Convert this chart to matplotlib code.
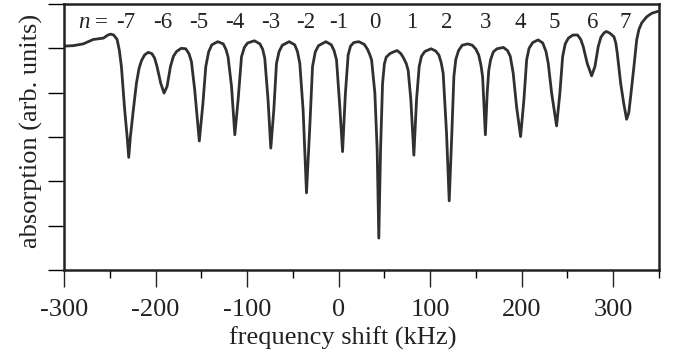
import numpy as np
import matplotlib
matplotlib.use("Agg")
import matplotlib.pyplot as plt
from matplotlib.ticker import MultipleLocator, NullFormatter

# Traced absorption spectrum (frequency shift in kHz, absorption in arb. units)
frequency_shift = [
    -300.0, -290.0, -279.0, -268.0, -257.0, -252.0, -249.0, -245.7,
    -242.0, -239.5, -237.3, -233.7, -231.0, -229.3, -227.5, -224.6,
    -220.9, -218.0, -215.4, -212.0, -208.0, -204.0, -201.0, -198.4,
    -194.3, -190.7, -187.4, -183.7, -180.5, -177.0, -172.0, -167.0,
    -163.5, -160.8, -157.2, -152.2, -148.4, -145.1, -142.0, -138.5,
    -132.0, -126.0, -123.0, -120.8, -117.0, -113.4, -109.8, -106.1,
    -103.0, -99.5, -92.0, -86.0, -83.0, -80.7, -77.1, -74.1,
    -70.8, -67.9, -65.0, -61.5, -54.0, -48.0, -45.0, -42.4,
    -38.8, -35.1, -31.5, -28.5, -25.5, -22.0, -14.0, -8.0,
    -5.0, -2.3, 1.3, 4.3, 7.3, 10.4, 13.0, 16.5,
    22.0, 28.0, 31.5, 34.0, 36.0, 39.6, 42.1, 43.9,
    45.8, 48.0, 50.0, 52.0, 56.0, 60.0, 64.0, 68.0,
    71.0, 74.0, 76.0, 78.9, 82.2, 85.1, 88.0, 90.5,
    94.2, 101.0, 106.0, 109.5, 112.0, 114.2, 117.9, 120.8,
    123.4, 125.9, 128.0, 131.0, 135.0, 141.0, 146.0, 150.0,
    153.0, 155.5, 157.3, 160.3, 162.3, 164.0, 166.0, 169.0,
    173.0, 180.0, 184.5, 187.5, 190.7, 194.4, 198.8, 202.4,
    205.4, 208.0, 212.0, 218.0, 223.0, 226.5, 229.0, 232.7,
    238.1, 241.7, 244.7, 247.5, 251.0, 256.0, 261.0, 264.5,
    267.2, 271.6, 276.4, 280.0, 283.6, 286.5, 290.0, 292.5,
    296.4, 300.8, 302.8, 304.4, 308.1, 311.5, 314.6, 317.0,
    319.0, 322.6, 325.6, 328.0, 331.0, 336.5, 342.0, 346.7,
    348.3,
]
absorption = [
    5.05, 5.06, 5.10, 5.20, 5.23, 5.30, 5.32, 5.30,
    5.20, 4.95, 4.59, 3.61, 3.00, 2.54, 3.00, 3.55,
    4.21, 4.55, 4.72, 4.85, 4.91, 4.88, 4.78, 4.59,
    4.21, 3.99, 4.14, 4.59, 4.82, 4.93, 5.00, 4.99,
    4.88, 4.70, 4.06, 2.91, 3.72, 4.59, 4.92, 5.08,
    5.15, 5.10, 4.97, 4.81, 4.14, 3.05, 3.84, 4.81,
    5.02, 5.12, 5.17, 5.10, 4.98, 4.78, 3.84, 2.75,
    3.61, 4.66, 4.93, 5.07, 5.15, 5.08, 4.93, 4.66,
    3.61, 1.74, 3.23, 4.59, 4.92, 5.06, 5.15, 5.08,
    4.95, 4.74, 3.68, 2.67, 3.95, 4.85, 5.05, 5.13,
    5.15, 5.09, 4.98, 4.86, 4.74, 3.99, 2.71, 0.72,
    2.71, 4.21, 4.65, 4.80, 4.88, 4.92, 4.95, 4.88,
    4.78, 4.65, 4.50, 3.84, 2.59, 3.84, 4.59, 4.82,
    4.93, 4.99, 4.94, 4.85, 4.68, 4.44, 3.08, 1.56,
    2.93, 4.36, 4.75, 4.95, 5.07, 5.10, 5.07, 4.98,
    4.85, 4.62, 4.36, 3.05, 3.99, 4.50, 4.74, 4.92,
    4.99, 5.02, 4.95, 4.82, 4.44, 3.68, 3.01, 3.84,
    4.74, 5.00, 5.13, 5.19, 5.12, 4.93, 4.66, 3.99,
    3.25, 3.99, 4.81, 5.10, 5.23, 5.30, 5.30, 5.20,
    5.04, 4.66, 4.38, 4.59, 5.04, 5.25, 5.35, 5.38,
    5.34, 5.26, 5.12, 4.89, 4.21, 3.75, 3.40, 3.55,
    3.91, 4.59, 5.19, 5.42, 5.57, 5.71, 5.79, 5.82,
    5.83,
]

# Sideband order labels and where they sit along the frequency axis
sideband_orders = [-7, -6, -5, -4, -3, -2, -1, 0, 1, 2, 3, 4, 5, 6, 7]
sideband_positions = [-233, -192, -153, -114, -74, -36, 0, 40, 80, 118, 160, 198, 236, 277, 313]

x_ticks = [-300, -200, -100, 0, 100, 200, 300]


def plot_spectrum():

    plt.rcParams['font.family'] = ['Liberation Serif', 'DejaVu Serif']

    figure = plt.figure(figsize=(6.78, 3.53), dpi=100)
    ax = figure.add_axes([0.0944, 0.2351, 0.8776, 0.7536])

    # Spectrum
    ax.plot(frequency_shift, absorption, color='#303030', linewidth=2.0, solid_joinstyle='round')

    # Sideband labels
    label_y = 5.46
    for order, position in zip(sideband_orders, sideband_positions):
        ax.text(position, label_y, str(order), fontsize=16.5, ha='center', va='baseline', color='#222222')
    ax.text(-259, label_y, "=", fontsize=16.5, ha='center', va='baseline', color='#222222')
    ax.text(-278.5, label_y, "n", fontsize=16.5, fontstyle='italic', ha='center', va='baseline', color='#222222')

    # Axes
    ax.set_xlim(-300, 350)
    ax.set_ylim(0, 6)
    ax.set_xticks(x_ticks)
    ax.set_xticklabels([str(t) for t in x_ticks])
    ax.xaxis.set_minor_locator(MultipleLocator(50))
    ax.set_yticks(range(0, 7))
    ax.yaxis.set_major_formatter(NullFormatter())

    ax.tick_params(axis='x', which='major', direction='out', length=12, width=1.0, labelsize=19, pad=8.6, colors='#222222')
    ax.tick_params(axis='x', which='minor', direction='out', length=6, width=1.0)
    ax.tick_params(axis='y', which='major', direction='out', length=11.5, width=1.0)
    for spine in ax.spines.values():
        spine.set_linewidth(1.8)
        spine.set_color('#222222')

    ax.set_xlabel("frequency shift (kHz)", fontsize=19, color='#222222')
    ax.set_ylabel("absorption (arb. units)", fontsize=19, color='#222222')
    ax.xaxis.set_label_coords(0.468, -0.214)
    ax.yaxis.set_label_coords(-0.035, 0.523)

    figure.savefig("out.png", dpi=100)


plot_spectrum()
